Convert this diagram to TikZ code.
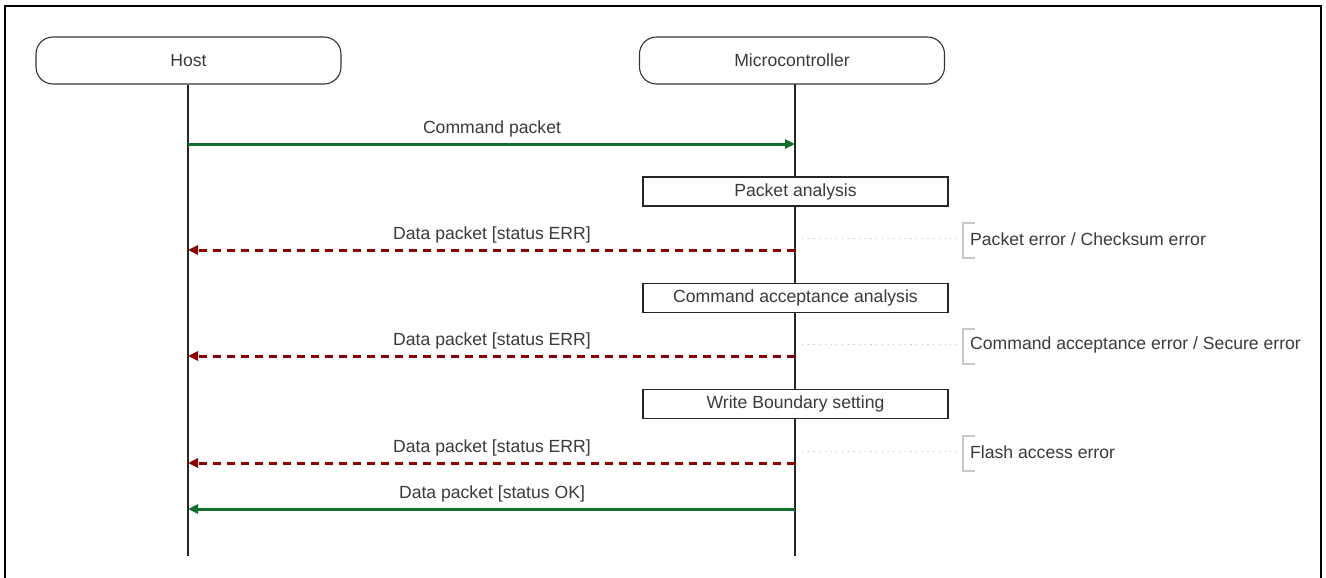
\documentclass[tikz,border=0pt]{standalone}
\usepackage{fontspec}
\setmainfont{Liberation Sans}
\usetikzlibrary{arrows.meta}
\definecolor{txt}{HTML}{3A3A3A}
\definecolor{okgreen}{HTML}{12702C}
\definecolor{errred}{HTML}{8B0000}
\definecolor{notegray}{HTML}{C8C8C8}
\begin{document}
\begin{tikzpicture}[x=1pt,y=-1pt,
  font=\fontsize{17.6}{20}\selectfont, text=txt,
  actor/.style={draw=black!80, line width=1.1pt, rounded corners=17pt, minimum width=305pt, minimum height=47pt, inner sep=0pt},
  procbox/.style={draw=black!85, line width=1.2pt, minimum width=305pt, minimum height=29pt, inner sep=0pt},
  lifeline/.style={draw=black!85, line width=1.1pt},
  okmsg/.style={draw=okgreen, line width=3pt, -{Triangle[length=10pt,width=9pt]}},
  errmsg/.style={draw=errred, line width=3pt, dash pattern=on 8pt off 6pt, -{Triangle[length=10pt,width=9pt]}},
  msglabel/.style={inner sep=0pt, anchor=center},
  notelink/.style={draw=notegray!80!black!60, line width=0.8pt, dash pattern=on 1.2pt off 4.5pt},
  notebr/.style={draw=notegray, line width=1.2pt},
  notetext/.style={inner sep=0pt, anchor=west}
]
\useasboundingbox (0,0) rectangle (1326,578);
% frame
\draw[line width=2.6pt] (5,578) -- (5,6) -- (1321,6) -- (1321,578);

% actors
\node[actor] (host) at (188.5,60.5) {Host};
\node[actor] (mcu) at (792,60.5) {Microcontroller};
\coordinate (hostend) at (188,556);
\coordinate (mcuend) at (795,556);
\draw[lifeline] (host.south -| hostend) -- (hostend);
\draw[lifeline] (795,84) -- (mcuend);

% processing boxes
\node[procbox, fill=white] (pa) at (795.5,191.5) {Packet analysis};
\node[procbox, fill=white] (caa) at (795.5,298) {Command acceptance analysis};
\node[procbox, fill=white] (wbs) at (795.5,404) {Write Boundary setting};

% message endpoints on lifelines
\coordinate (h1) at (188,144);  \coordinate (m1) at (795,144);
\coordinate (h2) at (188,250);  \coordinate (m2) at (795,250);
\coordinate (h3) at (188,356);  \coordinate (m3) at (795,356);
\coordinate (h4) at (188,463);  \coordinate (m4) at (795,463);
\coordinate (h5) at (188,509);  \coordinate (m5) at (795,509);

\draw[okmsg] (h1) -- (m1);
\node[msglabel] (l1) at (492,129) {Command packet};
\draw[errmsg] (m2) -- (h2);
\node[msglabel] (l2) at (492,235) {Data packet [status ERR]};
\draw[errmsg] (m3) -- (h3);
\node[msglabel] (l3) at (492,341) {Data packet [status ERR]};
\draw[errmsg] (m4) -- (h4);
\node[msglabel] (l4) at (492,448) {Data packet [status ERR]};
\draw[okmsg] (m5) -- (h5);
\node[msglabel] (l5) at (492,494) {Data packet [status OK]};

% notes
\foreach \y/\t/\n in {239/{Packet error / Checksum error}/n1, 345/{Command acceptance error / Secure error}/n2, 452/{Flash access error}/n3}{
  \node[notetext] (\n) at (970,\y) {\t};
  \coordinate (\n s) at (802,\y-1);
  \coordinate (\n e) at (956,\y-1);
  \draw[notelink] (\n s) -- (\n e);
  \draw[notebr] (975,\y-16) -- (963,\y-16) -- (963,\y+19) -- (975,\y+19);
}
\end{tikzpicture}
\end{document}
